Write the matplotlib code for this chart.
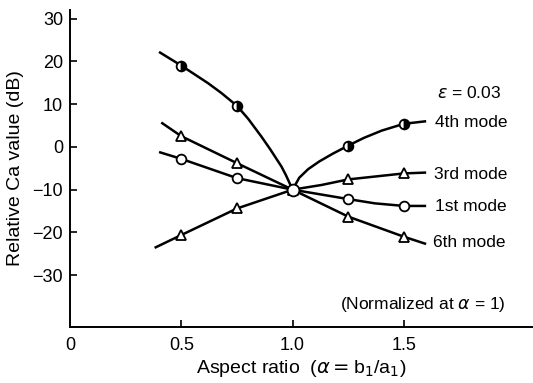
import matplotlib
matplotlib.use("Agg")
import matplotlib.pyplot as plt

plt.rcParams['font.family'] = ['Liberation Sans', 'DejaVu Sans']
plt.rcParams['mathtext.fontset'] = 'dejavusans'

# ---- data ----
marker_x = [0.5, 0.75, 1.0, 1.25, 1.5]

mode4_y = [19.0, 9.6, -10.0, 0.3, 5.4]
mode3_y = [2.5, -3.8, -10.0, -7.6, -6.2]
mode1_y = [-2.8, -7.3, -10.0, -12.2, -13.8]
mode6_y = [-20.6, -14.4, -10.0, -16.3, -21.0]

# traced curve points (including line ends)
mode4_cx = [0.40, 0.50, 0.62, 0.68, 0.75, 0.80, 0.86, 0.90, 0.95, 0.97, 1.00,
            1.03, 1.07, 1.12, 1.18, 1.25, 1.32, 1.40, 1.50, 1.60]
mode4_cy = [22.2, 19.0, 14.9, 12.6, 9.6, 6.6, 2.4, -0.6, -4.6, -6.6, -10.0,
            -7.2, -5.2, -3.4, -1.6, 0.3, 2.1, 3.8, 5.4, 6.0]
mode3_cx = [0.41, 0.50, 0.75, 1.00, 1.13, 1.25, 1.50, 1.60]
mode3_cy = [5.7, 2.5, -3.8, -10.0, -8.9, -7.6, -6.2, -6.0]
mode1_cx = [0.40, 0.50, 0.75, 1.00, 1.25, 1.37, 1.50, 1.60]
mode1_cy = [-1.2, -2.8, -7.3, -10.0, -12.2, -13.2, -13.8, -13.8]
mode6_cx = [0.38, 0.50, 0.75, 1.00, 1.25, 1.50, 1.60]
mode6_cy = [-23.6, -20.6, -14.4, -10.0, -16.3, -21.0, -22.7]

mode_labels = ["4th mode", "3rd mode", "1st mode", "6th mode"]
x_ticks = [0, 0.5, 1.0, 1.5]
x_ticklabels = ["0", "0.5", "1.0", "1.5"]
y_ticks = [-30, -20, -10, 0, 10, 20, 30]

fig = plt.figure(figsize=(5.33, 3.83), dpi=100)
ax = fig.add_axes([70/533, 56/383, 463/533, 317/383])
ax.set_xlim(0, 2.08)
ax.set_ylim(-42.1, 32.0)

lw = 1.8
for cx, cy in [(mode4_cx, mode4_cy), (mode3_cx, mode3_cy), (mode1_cx, mode1_cy), (mode6_cx, mode6_cy)]:
    ax.plot(cx, cy, color='black', lw=lw, solid_capstyle='butt', solid_joinstyle='round', zorder=2)

ms = 7
mew = 1.3
ax.plot(marker_x, mode3_y, ls='none', marker='^', ms=ms, mfc='white', mec='black', mew=mew, zorder=3)
ax.plot(marker_x, mode6_y, ls='none', marker='^', ms=ms, mfc='white', mec='black', mew=mew, zorder=3)
ax.plot(marker_x, mode1_y, ls='none', marker='o', ms=ms, mfc='white', mec='black', mew=mew, zorder=3)
ax.plot(marker_x[:2] + marker_x[3:], mode4_y[:2] + mode4_y[3:], ls='none', marker='o', ms=ms,
        fillstyle='right', mfc='black', markerfacecoloralt='white', mec='black', mew=mew, zorder=3)
ax.plot([marker_x[2]], [mode1_y[2]], ls='none', marker='o', ms=ms + 1.5, mfc='white', mec='black', mew=mew, zorder=4)

for s in ['top', 'right']:
    ax.spines[s].set_visible(False)
for s in ['left', 'bottom']:
    ax.spines[s].set_linewidth(1.4)

ax.set_xticks(x_ticks)
ax.set_xticklabels(x_ticklabels)
ax.set_yticks(y_ticks)
ax.tick_params(axis='both', direction='in', length=5, width=1.2, labelsize=13, pad=5)
ax.tick_params(axis='x', pad=7)
xt = ax.get_xticklines()
xt[0].set_visible(False)

ax.set_ylabel("Relative Ca value (dB)", fontsize=14, labelpad=6)
ax.set_xlabel(r"Aspect ratio  ($\alpha$$=$b$_1$/a$_1$)", fontsize=14, labelpad=3)

def px(x):
    return (x - 70) / 222.6

def py(y):
    return (147 - y) / 4.28

tk = dict(fontsize=12.5, va='center', ha='left')
ax.text(px(437), py(93), r"$\varepsilon$ = 0.03", **tk)
ax.text(px(435), py(123), mode_labels[0], **tk)
ax.text(px(434), py(175), mode_labels[1], **tk)
ax.text(px(435), py(207), mode_labels[2], **tk)
ax.text(px(433), py(243), mode_labels[3], **tk)
ax.text(px(340), py(305), r"(Normalized at $\alpha$ = 1)", **tk)

fig.savefig("out.png", dpi=100)
